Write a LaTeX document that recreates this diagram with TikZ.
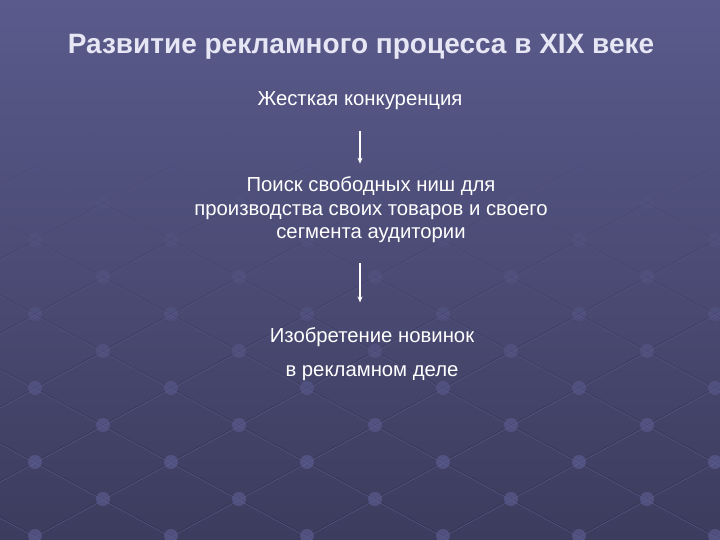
\documentclass[tikz,border=0pt]{standalone}
\usepackage{fontspec}
\setmainfont{Liberation Sans}
\usetikzlibrary{arrows.meta}
\definecolor{bgtop}{HTML}{5A5A8C}
\definecolor{bgbot}{HTML}{3C3C5E}
\definecolor{gridline}{HTML}{2E2E4C}
\definecolor{gridlite}{HTML}{6E6EA0}
\definecolor{knob}{HTML}{62629A}
\definecolor{titletext}{HTML}{E6E6F4}
\begin{document}
\begin{tikzpicture}[x=1pt, y=-1pt,
    stage/.style={text=white, font=\fontsize{20.3}{23.6}\selectfont, align=center, inner sep=2pt},
    flow/.style={-{Stealth[length=6pt, width=5pt]}, white, line width=1.2pt}]
    \useasboundingbox (0,0) rectangle (720,540);
    \shade[top color=bgtop, bottom color=bgbot] (0,0) rectangle (720,540);
    \begin{scope}
        \clip (0,0) rectangle (720,540);
        \foreach \i in {-7,...,7} {
            \foreach \j in {-7,...,7} {
                \pgfmathsetmacro{\px}{103+68*\i+68*\j}
                \pgfmathsetmacro{\py}{425-37*\i+37*\j}
                \pgfmathsetmacro{\op}{0.55*min(1,max(0,(\py-140)/320))}
                \draw[gridlite, opacity=\op, line width=0.5pt] (\px,\py+1) -- ++(68,-37) (\px,\py+1) -- ++(68,37);
                \draw[gridline, opacity=\op, line width=0.7pt] (\px,\py) -- ++(68,-37) (\px,\py) -- ++(68,37);
                \fill[knob, opacity=\op] (\px,\py) circle (7pt);
            }
        }
    \end{scope}
    \node[font=\bfseries\fontsize{28}{32}\selectfont, text=titletext] (title) at (361,47) {Развитие рекламного процесса в XIX веке};
    \node[stage] (konk) at (360,101) {Жесткая конкуренция};
    \node[stage] (poisk) at (371,210) {Поиск свободных ниш для\\производства своих товаров и своего\\сегмента аудитории};
    \node[stage] (izobr) at (372,354) {Изобретение новинок\\[10pt]в рекламном деле};
    \draw[flow, shorten <=19pt, shorten >=11pt] (konk.south) -- (konk.south |- poisk.north);
    \draw[flow, shorten <=18pt, shorten >=23pt] (konk.south |- poisk.south) -- (konk.south |- izobr.north);
\end{tikzpicture}
\end{document}
